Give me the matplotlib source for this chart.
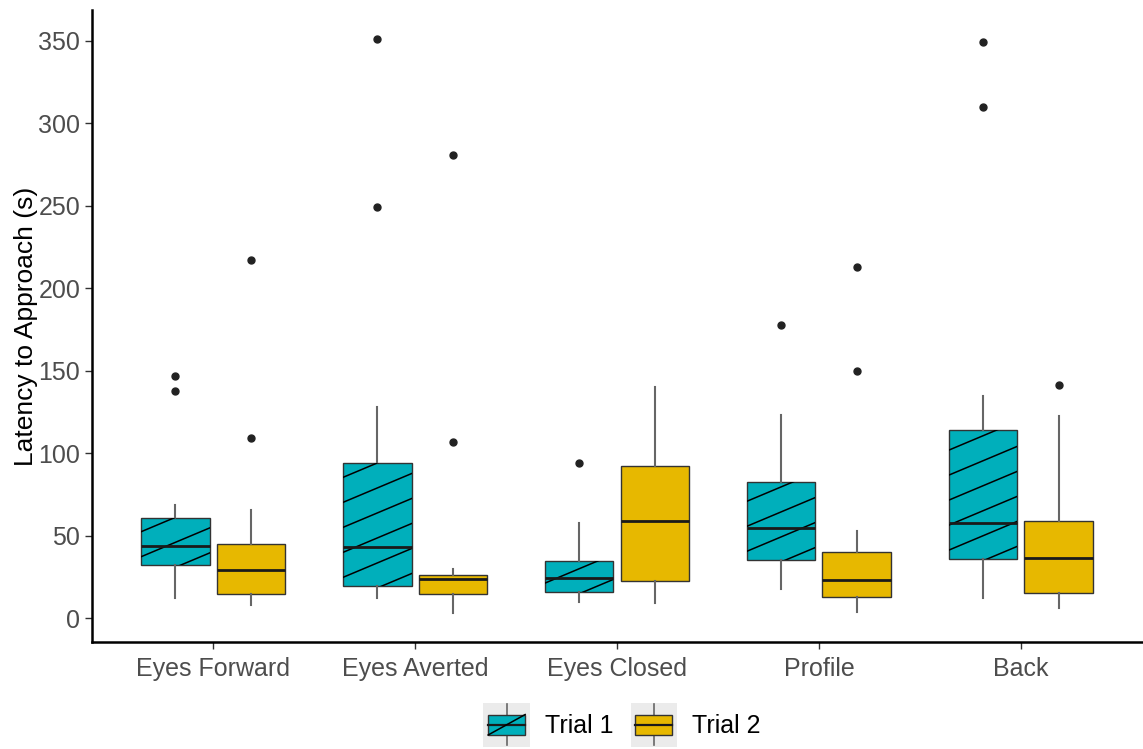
import numpy as np
import matplotlib
matplotlib.use("Agg")
import matplotlib.pyplot as plt
from matplotlib.patches import Rectangle
from matplotlib.lines import Line2D
from matplotlib.legend_handler import HandlerBase

plt.rcParams['font.family'] = ['Liberation Sans', 'DejaVu Sans']

# data (seconds)
categories = ["Eyes Forward", "Eyes Averted", "Eyes Closed", "Profile", "Back"]
trials = ["Trial 1", "Trial 2"]
colors = ["#00AFBB", "#E7B800"]

t1_whislo = [12, 12, 10, 18, 12]
t1_q1 = [32, 19.5, 16, 35.3, 36]
t1_med = [44, 43, 24.6, 54.8, 57.8]
t1_q3 = [61, 94.3, 34.5, 82.4, 114.3]
t1_whishi = [68.7, 128, 57.6, 123, 135]
t1_fliers = [[147, 138], [351, 249], [94], [178], [349, 310]]

t2_whislo = [8, 3.2, 9, 4, 6.5]
t2_q1 = [14.5, 14.5, 22.6, 13.1, 15.3]
t2_med = [29, 24, 59.2, 23.2, 36.3]
t2_q3 = [45, 26.4, 92, 40.3, 58.8]
t2_whishi = [65.5, 29.6, 140, 52.8, 122.3]
t2_fliers = [[109, 217], [107, 281], [], [150, 213], [141.5]]

yticks = [0, 50, 100, 150, 200, 250, 300, 350]


def make_stats(lo, q1, med, q3, hi, fl):
    return [dict(whislo=a, q1=b, med=c, q3=d, whishi=e, fliers=f)
            for a, b, c, d, e, f in zip(lo, q1, med, q3, hi, fl)]


stats = [make_stats(t1_whislo, t1_q1, t1_med, t1_q3, t1_whishi, t1_fliers),
         make_stats(t2_whislo, t2_q1, t2_med, t2_q3, t2_whishi, t2_fliers)]

fig = plt.figure(figsize=(11.43, 7.49), dpi=100)
ax = fig.add_axes([92 / 1143, 1 - 642 / 749, 1 - 93 / 1143, (642 - 10) / 749])

x = np.arange(1, len(categories) + 1)
offsets = [-0.1875, 0.1875]
box_w = 0.34
ax.set_xlim(0.4, 5.6)
ax.set_ylim(-14.4, 368.7)

boxes_t1 = []
for i in range(2):
    bp = ax.bxp(stats[i], positions=x + offsets[i], widths=box_w,
                patch_artist=True, showcaps=False, manage_ticks=False,
                boxprops=dict(facecolor=colors[i], edgecolor="#333333", linewidth=1.0),
                whiskerprops=dict(color="#666666", linewidth=1.5),
                medianprops=dict(color="#1a1a1a", linewidth=2.0),
                flierprops=dict(marker="o", markersize=5, markerfacecolor="#222222",
                                markeredgecolor="#222222"))
    if i == 0:
        boxes_t1 = bp["boxes"]

# diagonal stripes on Trial 1 boxes, clipped to each box
ppx = ax.bbox.width / (5.6 - 0.4)
ppy = ax.bbox.height / (368.7 + 14.4)
slope = 0.42 * ppx / ppy
step = 25 / ppy
for k, patch in enumerate(boxes_t1):
    xl = x[k] + offsets[0] - box_w / 2
    xr = x[k] + offsets[0] + box_w / 2
    c = t1_q1[k] - slope * box_w + step * 0.5
    while c < t1_q3[k]:
        ln = Line2D([xl, xr], [c, c + slope * box_w], color="black", linewidth=1.1)
        ax.add_line(ln)
        ln.set_clip_path(patch)
        c += step

ax.set_xticks(x)
ax.set_xticklabels(categories)
ax.set_yticks(yticks)
ax.tick_params(axis="both", labelsize=18, labelcolor="#4D4D4D", color="#333333",
               length=5, width=1)
ax.tick_params(axis="x", pad=6)
ax.set_ylabel("Latency to Approach (s)", fontsize=19, color="black", labelpad=0)
for s in ["top", "right"]:
    ax.spines[s].set_visible(False)
for s in ["left", "bottom"]:
    ax.spines[s].set_linewidth(1.8)
    ax.spines[s].set_color("black")


class BoxKey(HandlerBase):
    def __init__(self, color, stripe):
        super().__init__()
        self.color = color
        self.stripe = stripe

    def create_artists(self, legend, orig_handle, xdescent, ydescent,
                       width, height, fontsize, trans):
        x0, y0 = -xdescent, -ydescent
        arts = [Rectangle((x0, y0), width, height, facecolor="#EBEBEB",
                          edgecolor="none", transform=trans)]
        bx0, bx1 = x0 + width * 0.1, x0 + width * 0.9
        by0, by1 = y0 + height * 0.27, y0 + height * 0.74
        xm = x0 + width / 2
        arts.append(Line2D([xm, xm], [y0 + height * 0.04, by0], color="#666666",
                           linewidth=1.2, transform=trans))
        arts.append(Line2D([xm, xm], [by1, y0 + height * 0.98], color="#666666",
                           linewidth=1.2, transform=trans))
        arts.append(Rectangle((bx0, by0), bx1 - bx0, by1 - by0, facecolor=self.color,
                              edgecolor="#333333", linewidth=1.0, transform=trans))
        ym = (by0 + by1) / 2
        arts.append(Line2D([bx0, bx1], [ym, ym], color="#1a1a1a", linewidth=1.6,
                           transform=trans))
        if self.stripe:
            arts.append(Line2D([bx0, bx1], [by0, by1], color="black", linewidth=1.1,
                               transform=trans))
        return arts


handles = [Rectangle((0, 0), 1, 1) for _ in trials]
handler_map = {handles[0]: BoxKey(colors[0], True), handles[1]: BoxKey(colors[1], False)}
fig.legend(handles, trials, handler_map=handler_map, loc="center",
           bbox_to_anchor=(622 / 1143, 1 - 725 / 749), ncol=2, frameon=False,
           fontsize=18, handlelength=1.85, handleheight=2.3, handletextpad=0.6,
           columnspacing=0.7, borderpad=0)

fig.savefig("out.png", dpi=100)
